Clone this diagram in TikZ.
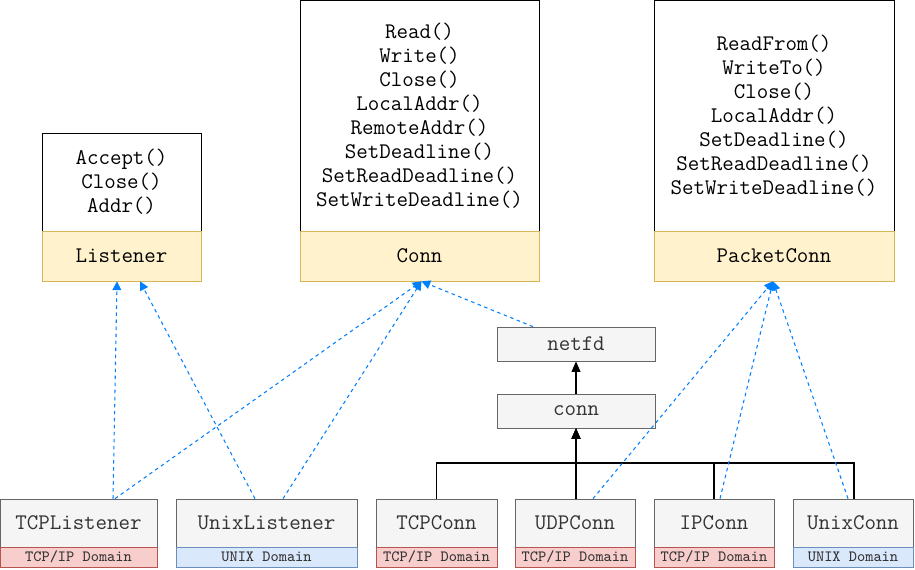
\documentclass[tikz,border=0pt]{standalone}
\usepackage{fontspec}
\usetikzlibrary{arrows.meta,calc}

\definecolor{ifacefill}{HTML}{FFF2CC}
\definecolor{ifaceline}{HTML}{D6B656}
\definecolor{grayfill}{HTML}{F5F5F5}
\definecolor{grayline}{HTML}{666666}
\definecolor{darktext}{HTML}{333333}
\definecolor{tcpfill}{HTML}{F8CECC}
\definecolor{tcpline}{HTML}{B85450}
\definecolor{unixfill}{HTML}{DAE8FC}
\definecolor{unixline}{HTML}{6C8EBF}
\definecolor{implblue}{HTML}{007FFF}

\begin{document}
\begin{tikzpicture}[
        x=0.02cm, y=-0.02cm,
        codefont/.style={font=\ttfamily\fontsize{12.7}{13.66}\selectfont},
        methods/.style={draw=black, fill=white, align=center, inner sep=0pt, codefont},
        iface/.style={draw=ifaceline, fill=ifacefill, minimum height=1cm, inner sep=0pt, codefont},
        impl/.style={draw=grayline, fill=grayfill, text=darktext, minimum height=0.96cm, inner sep=0pt, codefont},
        small/.style={draw=grayline, fill=grayfill, text=darktext, minimum width=3.16cm, minimum height=0.68cm, inner sep=0pt, codefont},
        tcpdom/.style={draw=tcpline, fill=tcpfill, text=darktext, minimum height=0.4cm, inner sep=0pt, font=\ttfamily\fontsize{8.9}{9}\selectfont},
        unixdom/.style={draw=unixline, fill=unixfill, text=darktext, minimum height=0.4cm, inner sep=0pt, font=\ttfamily\fontsize{8.9}{9}\selectfont},
        implements/.style={-{Triangle[length=5pt,width=5pt]}, implblue, line width=0.6pt, dash pattern=on 2pt off 2pt},
        embeds/.style={-{Triangle[length=6pt,width=5pt]}, black, line width=0.7pt}
    ]
        \useasboundingbox (0,0) rectangle (915,570);

        % Interfaces
        \node[methods, minimum width=3.18cm, minimum height=1.96cm] (ListenerM) at (121.5,182)
            {Accept()\\Close()\\Addr()};
        \node[iface, minimum width=3.18cm] (Listener) at (121.5,256) {Listener};

        \node[methods, minimum width=4.78cm, minimum height=4.62cm] (ConnM) at (419.5,115.5)
            {Read()\\Write()\\Close()\\LocalAddr()\\RemoteAddr()\\SetDeadline()\\SetReadDeadline()\\SetWriteDeadline()};
        \node[iface, minimum width=4.78cm] (Conn) at (419.5,256) {Conn};

        \node[methods, minimum width=4.8cm, minimum height=4.62cm] (PacketConnM) at (774,115.5)
            {ReadFrom()\\WriteTo()\\Close()\\LocalAddr()\\SetDeadline()\\SetReadDeadline()\\SetWriteDeadline()};
        \node[iface, minimum width=4.8cm] (PacketConn) at (774,256) {PacketConn};

        % Internal types
        \node[small] (netfd) at (576,344) {netfd};
        \node[small] (conn) at (576,411) {conn};

        % Implementations
        \node[impl, minimum width=3.14cm] (TCPListener) at (78.5,523) {TCPListener};
        \node[tcpdom, minimum width=3.14cm] (TCPListenerD) at (78.5,557) {TCP/IP Domain};
        \node[impl, minimum width=3.62cm] (UnixListener) at (266.5,523) {UnixListener};
        \node[unixdom, minimum width=3.62cm] (UnixListenerD) at (266.5,557) {UNIX Domain};
        \node[impl, minimum width=2.42cm] (TCPConn) at (436.5,523) {TCPConn};
        \node[tcpdom, minimum width=2.42cm] (TCPConnD) at (436.5,557) {TCP/IP Domain};
        \node[impl, minimum width=2.4cm] (UDPConn) at (575,523) {UDPConn};
        \node[tcpdom, minimum width=2.4cm] (UDPConnD) at (575,557) {TCP/IP Domain};
        \node[impl, minimum width=2.4cm] (IPConn) at (714,523) {IPConn};
        \node[tcpdom, minimum width=2.4cm] (IPConnD) at (714,557) {TCP/IP Domain};
        \node[impl, minimum width=2.4cm] (UnixConn) at (853,523) {UnixConn};
        \node[unixdom, minimum width=2.4cm] (UnixConnD) at (853,557) {UNIX Domain};

        % Embedding (solid)
        \coordinate (bus) at (576,463);
        \draw[embeds] (conn.north) -- (netfd.south);
        \draw[embeds] (TCPConn.north) |- (bus) -- (conn.south);
        \draw[embeds] ($(UDPConn.north)+(1,0)$) -- (conn.south);
        \draw[embeds] (IPConn.north) |- (bus) -- (conn.south);
        \draw[embeds] ($(UnixConn.north)+(1,0)$) |- (bus) -- (conn.south);

        % Implements (dashed)
        \draw[implements] ($(TCPListener.north)+(34.5,0)$) -- ($(Listener.south)+(-4.5,0)$);
        \draw[implements] ($(UnixListener.north)+(-11.5,0)$) -- ($(Listener.south)+(18.5,0)$);
        \draw[implements] ($(TCPListener.north)+(36.5,0)$) -- ($(Conn.south)+(2,0)$);
        \draw[implements] ($(UnixListener.north)+(16.5,0)$) -- ($(Conn.south)+(2,0)$);
        \draw[implements] ($(netfd.north)+(-43,0)$) -- ($(Conn.south)+(2,0)$);
        \draw[implements] ($(UDPConn.north)+(18,0)$) -- ($(PacketConn.south)+(-1,0)$);
        \draw[implements] ($(IPConn.north)+(6,0)$) -- ($(PacketConn.south)+(-1,0)$);
        \draw[implements] ($(UnixConn.north)+(-5,0)$) -- ($(PacketConn.south)+(-1,0)$);
    \end{tikzpicture}
\end{document}
